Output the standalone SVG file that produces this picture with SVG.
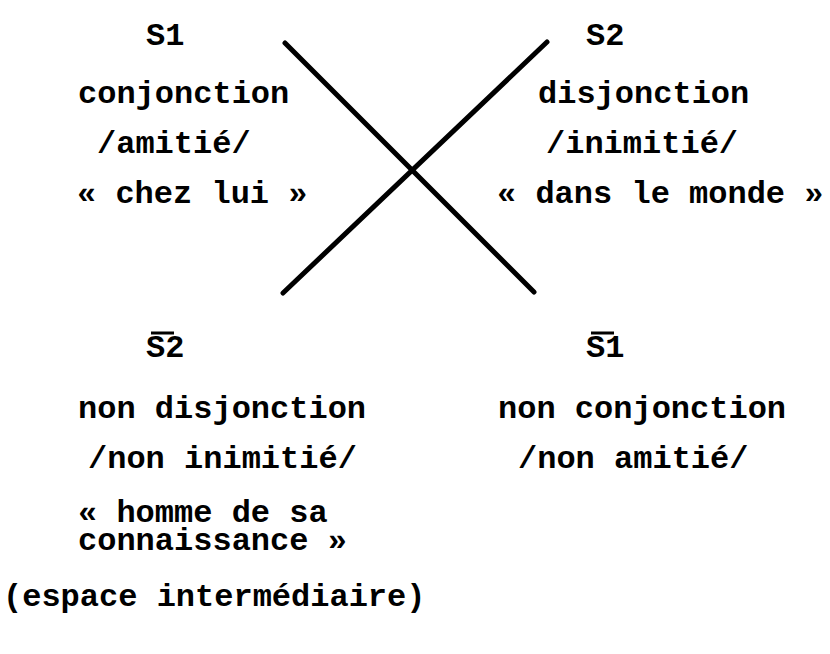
<svg xmlns="http://www.w3.org/2000/svg" width="830" height="654" viewBox="0 0 830 654">
<style>
text{font-family:"Liberation Mono","Courier New",monospace;font-weight:bold;font-size:32px;fill:#000}
.ln{stroke:#000;stroke-width:5;stroke-linecap:round;fill:none}
.bar{stroke:#000;stroke-width:3}
</style>
<rect width="830" height="654" fill="#fff"/>
<g id="connectors">
<line class="ln" x1="285" y1="43" x2="534" y2="292"/>
<line class="ln" x1="547" y1="42" x2="283" y2="293"/>
</g>
<g id="s1">
<text x="146" y="45">S1</text>
<text x="78" y="103">conjonction</text>
<text x="97" y="153">/amitié/</text>
<text x="77" y="203">« chez lui »</text>
</g>
<g id="s2">
<text x="586" y="45">S2</text>
<text x="538" y="103">disjonction</text>
<text x="546" y="153">/inimitié/</text>
<text x="497" y="203">« dans le monde »</text>
</g>
<g id="not-s2">
<line class="bar" x1="151" y1="333" x2="174" y2="333"/>
<text x="146" y="357">S2</text>
<text x="78" y="418">non disjonction</text>
<text x="88" y="468">/non inimitié/</text>
<text x="78" y="522">« homme de sa</text>
<text x="78" y="550">connaissance »</text>
<text x="3" y="606">(espace intermédiaire)</text>
</g>
<g id="not-s1">
<line class="bar" x1="591" y1="333" x2="614" y2="333"/>
<text x="586" y="357">S1</text>
<text x="498" y="418">non conjonction</text>
<text x="518" y="468">/non amitié/</text>
</g>
</svg>
